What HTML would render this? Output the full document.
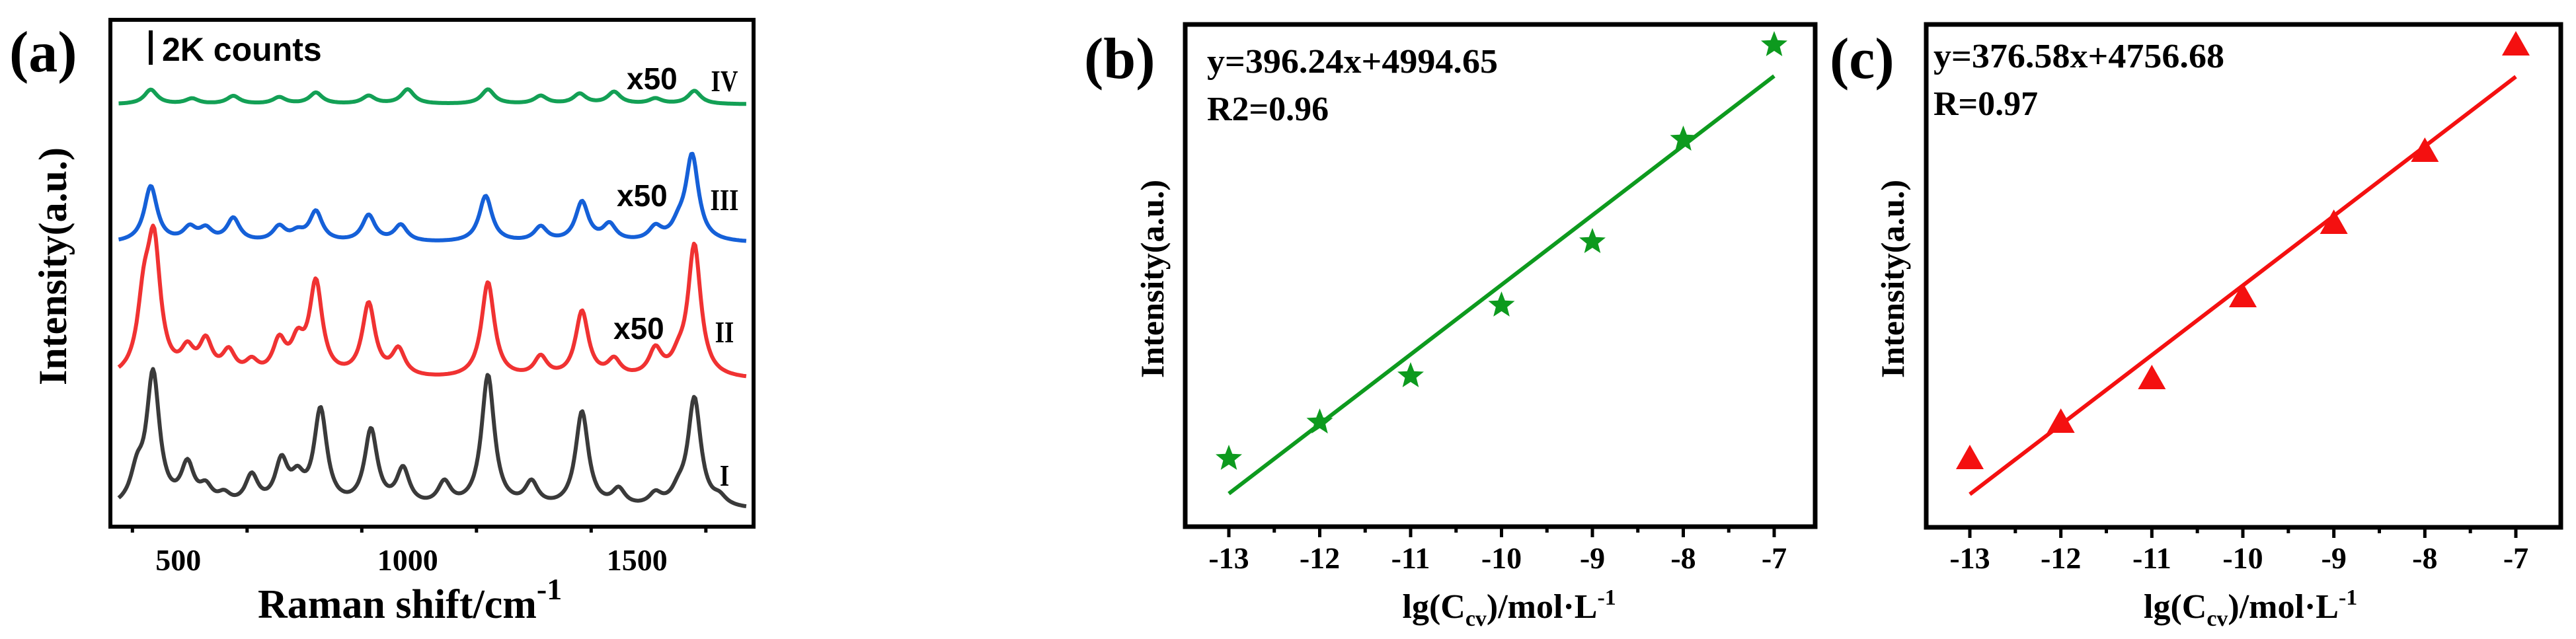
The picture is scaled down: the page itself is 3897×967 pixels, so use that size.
<!DOCTYPE html>
<html><head><meta charset="utf-8">
<style>
html,body{margin:0;padding:0;background:#fff;}
svg{display:block;}
text{font-family:"Liberation Serif",serif;font-weight:bold;fill:#000;}
.sans{font-family:"Liberation Sans",sans-serif;}
</style></head>
<body>
<svg id="fig" width="3897" height="967" viewBox="0 0 3897 967" xmlns="http://www.w3.org/2000/svg"></svg>
<script>
// ---- Panel (a) data: Raman peaks (position cm-1, height a.u.)
const ramanTicks = [500, 1000, 1500];
const peaksI_pos = [410,445,520,560,600,660,725,760,810,920,990,1080,1175,1270,1380,1460,1540,1590,1625,1680];
const peaksI_h   = [45,200,60,25,15,45,65,35,145,115,55,35,200,35,145,25,18,18,165,12];
const peaksII_pos = [425,447,520,560,610,660,720,760,800,915,980,1175,1290,1380,1450,1540,1590,1625];
const peaksII_h   = [100,190,35,50,35,20,50,45,140,110,40,145,30,100,25,40,20,200];
const peaksIII_pos = [440,525,560,620,720,760,800,915,985,1170,1290,1380,1440,1540,1590,1620];
const peaksIII_h   = [85,20,18,35,22,12,45,40,25,70,22,60,25,20,18,130];
const peaksIV_pos = [440,530,620,720,800,915,1000,1175,1290,1375,1450,1540,1625];
const peaksIV_h   = [22,8,12,10,17,12,22,22,12,15,18,8,20];

// ---- Panel (b),(c) data
const concTicks = [-13,-12,-11,-10,-9,-8,-7];
const concB = [-13,-12,-11,-10,-9,-8,-7];
const intensB = [103,158,228,335,431,586,729];
const fitB = [50,682];
const concC = [-13,-12,-11,-10,-9,-8,-7];
const intensC = [103,158,224,348,459,568,729];
const fitC = [50,682];

const NS="http://www.w3.org/2000/svg";
const svg=document.getElementById('fig');
function mk(tag,attrs,parent){const e=document.createElementNS(NS,tag);for(const k in attrs)e.setAttribute(k,attrs[k]);(parent||svg).appendChild(e);return e;}
function txt(s,attrs,parent){const e=mk('text',attrs,parent);e.textContent=s;return e;}
function tspan(parent,s,attrs){const e=document.createElementNS(NS,'tspan');for(const k in attrs)e.setAttribute(k,attrs[k]);e.textContent=s;parent.appendChild(e);return e;}

// ===== Panel A =====
const A={x0:167,x1:1140,y0:30,y1:797,dmin:352,dmax:1754};
const ax=v=>A.x0+(v-A.dmin)/(A.dmax-A.dmin)*(A.x1-A.x0);
function spectrum(pos,h,w,x){let s=0;for(let i=0;i<pos.length;i++){const d=(x-pos[i])/w;s+=h[i]/(1+d*d);}return s;}
const gA=mk('g',{});


const series=[
 {pos:peaksIV_pos,h:peaksIV_h,base:158,col:'#13a055',name:'spectrum-iv'},
 {pos:peaksIII_pos,h:peaksIII_h,base:368,col:'#1560d8',name:'spectrum-iii'},
 {pos:peaksII_pos,h:peaksII_h,base:575,col:'#f03232',name:'spectrum-ii'},
 {pos:peaksI_pos,h:peaksI_h,base:772,col:'#3a3a3a',name:'spectrum-i'}
];
series.forEach(s=>{
  let d='';
  for(let x=370;x<=1740;x+=3){
    const y=s.base-spectrum(s.pos,s.h,17,x);
    d+=(d?'L':'M')+ax(x).toFixed(1)+','+y.toFixed(1);
  }
  const p=mk('path',{d:d,fill:'none',stroke:s.col,'stroke-width':6,'stroke-linejoin':'round'},gA);
  
  
});
const frameA=mk('rect',{x:A.x0,y:A.y0,width:A.x1-A.x0,height:A.y1-A.y0,fill:'none',stroke:'#000','stroke-width':6},gA);


for(let v=400;v<=1700;v+=250){
  const major=ramanTicks.includes(v);
  mk('line',{x1:ax(v),x2:ax(v),y1:A.y1,y2:A.y1+(major?15:9),stroke:'#000','stroke-width':5},gA);
}
ramanTicks.forEach(v=>{
  const t=txt(v,{x:ax(v),y:863,'font-size':46,'text-anchor':'middle','font-weight':'normal'},gA);
  
  
});
let t;
t=mk('text',{x:390,y:935,'font-size':62},gA);


tspan(t,'Raman shift/cm',{});
tspan(t,'-1',{'font-size':46,dy:-28});
t=txt('Intensity(a.u.)',{x:0,y:0,'font-size':60,'text-anchor':'middle',transform:'translate(100,403) rotate(-90)'},gA);


t=txt('(a)',{x:14,y:108,'font-size':88},gA);


mk('line',{x1:228,x2:228,y1:46,y2:98,stroke:'#000','stroke-width':6},gA);
t=txt('2K counts',{x:245,y:92,'font-size':50,class:'sans'},gA);


[['x50',948,135],['x50',933,312],['x50',928,513]].forEach(a=>{
  t=txt(a[0],{x:a[1],y:a[2],'font-size':46,class:'sans'},gA);
  
  
});
[['IV',1096,138],['III',1096,318],['II',1096,518],['I',1096,735]].forEach(a=>{
  t=txt(a[0],{x:a[1],y:a[2],'font-size':46,'text-anchor':'middle','font-weight':'normal',transform:`translate(${a[1]},0) scale(0.8,1) translate(${-a[1]},0)`},gA);
  
  
});

// ===== Panels B, C =====
function linPanel(cfg){
  const g=mk('g',{});
  
  
  const sx=v=>cfg.t0+(v-(-13))/6*(cfg.t1-cfg.t0);
  const sy=v=>cfg.y1-v;
  const fr=mk('rect',{x:cfg.x0,y:cfg.y0,width:cfg.x1-cfg.x0,height:cfg.y1-cfg.y0,fill:'none',stroke:'#000','stroke-width':7},g);
  
  
  for(let v=-13.5;v<=-6.9;v+=0.5){
    if(sx(v)<=cfg.x0+3||sx(v)>=cfg.x1-3)continue;
    const major=Number.isInteger(v);
    mk('line',{x1:sx(v),x2:sx(v),y1:cfg.y1,y2:cfg.y1+(major?16:9),stroke:'#000','stroke-width':5},g);
  }
  concTicks.forEach(v=>{
    const tt=txt(v,{x:sx(v),y:860,'font-size':46,'text-anchor':'middle'},g);
    
    
  });
  const fit=mk('line',{x1:sx(-13),y1:sy(cfg.fit[0]),x2:sx(-7),y2:sy(cfg.fit[1]),stroke:cfg.col,'stroke-width':6},g);
  
  
  cfg.xs.forEach((xv,i)=>{
    const cx=sx(xv),cy=sy(cfg.ys[i]);
    let m;
    if(cfg.marker==='star'){
      let pts=[];for(let k=0;k<10;k++){const r=k%2?9:21;const a=-Math.PI/2+k*Math.PI/5;pts.push((cx+r*Math.cos(a)).toFixed(1)+','+(cy+r*Math.sin(a)).toFixed(1));}
      m=mk('polygon',{points:pts.join(' '),fill:cfg.col},g);
    }else{
      m=mk('polygon',{points:`${cx},${cy-22} ${cx-21},${cy+15} ${cx+21},${cy+15}`,fill:cfg.col},g);
    }
    
    
  });
  let tt=txt(cfg.label,{x:cfg.lx,y:118,'font-size':88},g);
  
  
  tt=txt(cfg.eq,{x:cfg.ex,y:cfg.ey,'font-size':52,'textLength':cfg.eqw,'lengthAdjust':'spacingAndGlyphs'},g);
  
  
  tt=txt(cfg.r,{x:cfg.ex,y:cfg.ey+72,'font-size':52},g);
  
  
  tt=txt('Intensity(a.u.)',{x:0,y:0,'font-size':50,'text-anchor':'middle',transform:`translate(${cfg.ylx},422) rotate(-90)`},g);
  
  
  const mid=(cfg.t0+cfg.t1)/2;
  tt=mk('text',{x:mid-150,y:935,'font-size':52},g);
  
  
  tspan(tt,'lg(C',{});
  tspan(tt,'cv',{'font-size':34,dy:12});
  tspan(tt,')/mol·L',{dy:-12});
  tspan(tt,'-1',{'font-size':34,dy:-20});
}
linPanel({name:'panel-b',x0:1793,x1:2746,y0:37,y1:797,t0:1859,t1:2684,xs:concB,ys:intensB,fit:fitB,col:'#0d9a1e',marker:'star',label:'(b)',lx:1640,eq:'y=396.24x+4994.65',ex:1826,ey:110,eqw:440,r:'R2=0.96',ylx:1760});
linPanel({name:'panel-c',x0:2914,x1:3874,y0:37,y1:798,t0:2980,t1:3806,xs:concC,ys:intensC,fit:fitC,col:'#f41010',marker:'tri',label:'(c)',lx:2768,eq:'y=376.58x+4756.68',ex:2925,ey:102,eqw:440,r:'R=0.97',ylx:2880});
</script>
</body></html>
